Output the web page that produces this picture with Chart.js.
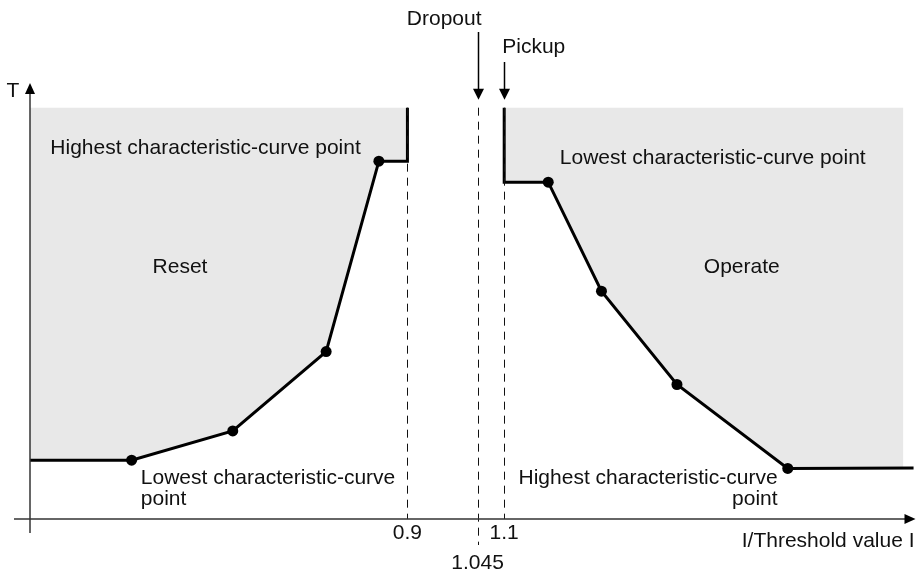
<!DOCTYPE html>
<html><head><meta charset="utf-8">
<script src="https://cdn.jsdelivr.net/npm/chart.js@4/dist/chart.umd.min.js"></script>
<style>html,body{margin:0;padding:0;background:#fff;}#wrap{width:921px;height:575px;}</style>
</head><body><div id="wrap"><canvas id="c" width="921" height="575"></canvas></div>
<script>
// ---- data (I/Threshold value on x, time T on y, schematic units) ----
const resetPointsI = [0.330, 0.539, 0.732, 0.841];
const resetPointsT = [1.43, 2.14, 4.07, 8.70];
const operatePointsI = [1.191, 1.301, 1.457, 1.686];
const operatePointsT = [8.19, 5.54, 3.27, 1.23];
const resetThreshold = 0.9;
const pickupThreshold = 1.1;
const dropoutThreshold = 1.045;
const tickValues = [0.9, 1.1];
const tickLabels = ['0.9', '1.1'];
const dropoutTickLabel = '1.045';
const regionTopT = 10;
const resetHighT = 8.70;
const curveStartI = 0.12;
const curveEndI = 1.946;
const operateRegionEndI = 1.925;
const operateLowT = 1.24;

// build curves
const resetCurve = [{x: curveStartI, y: resetPointsT[0]}]
  .concat(resetPointsI.map((v, k) => ({x: v, y: resetPointsT[k]})))
  .concat([{x: resetThreshold, y: resetHighT}, {x: resetThreshold, y: regionTopT}]);
const operateCurveCore = [{x: pickupThreshold, y: regionTopT}, {x: pickupThreshold, y: operatePointsT[0]}]
  .concat(operatePointsI.map((v, k) => ({x: v, y: operatePointsT[k]})));
const operateCurve = operateCurveCore.concat([{x: curveEndI, y: operateLowT}]);
const operateRegion = operateCurveCore.concat([{x: operateRegionEndI, y: operateLowT}]);
const dots = resetPointsI.map((v, k) => ({x: v, y: resetPointsT[k]}))
  .concat(operatePointsI.map((v, k) => ({x: v, y: operatePointsT[k]})));

const labels = [
  {text: 'Highest characteristic-curve point', x: 0.162, y: 9.02, align: 'left'},
  {text: 'Reset', x: 0.430, y: 6.13, align: 'center'},
  {text: 'Lowest characteristic-curve point', x: 1.215, y: 8.78, align: 'left'},
  {text: 'Operate', x: 1.591, y: 6.13, align: 'center'},
  {text: 'Lowest characteristic-curve', x: 0.349, y: 1.00, align: 'left'},
  {text: 'point', x: 0.349, y: 0.47, align: 'left'},
  {text: 'Highest characteristic-curve', x: 1.665, y: 1.00, align: 'right'},
  {text: 'point', x: 1.665, y: 0.47, align: 'right'},
  {text: 'Dropout', x: 0.976, y: 12.14, align: 'center'},
  {text: 'Pickup', x: 1.096, y: 11.46, align: 'left'}
];

const FONT = '21px "Liberation Sans", Arial, sans-serif';
const INK = '#111';

function arrowHead(ctx, x, y, dir, len, half) {
  ctx.beginPath();
  if (dir === 'up') { ctx.moveTo(x, y); ctx.lineTo(x - half, y + len); ctx.lineTo(x + half, y + len); }
  else if (dir === 'down') { ctx.moveTo(x, y); ctx.lineTo(x - half, y - len); ctx.lineTo(x + half, y - len); }
  else { ctx.moveTo(x, y); ctx.lineTo(x - len, y - half); ctx.lineTo(x - len, y + half); }
  ctx.closePath(); ctx.fill();
}

const deco = {
  id: 'deco',
  afterDatasetsDraw(chart) {
    const {ctx, chartArea: a, scales: {x, y}} = chart;
    ctx.save();
    ctx.strokeStyle = INK; ctx.lineWidth = 1; ctx.setLineDash([8, 6]);
    const top = y.getPixelForValue(regionTopT);
    [[resetThreshold, a.bottom], [dropoutThreshold, a.bottom + 26], [pickupThreshold, a.bottom]].forEach(([v, b]) => {
      const px = Math.round(x.getPixelForValue(v)) + 0.5;
      ctx.beginPath(); ctx.moveTo(px, top); ctx.lineTo(px, b); ctx.stroke();
    });
    ctx.restore();
  },
  afterDraw(chart) {
    const {ctx, chartArea: a, scales: {x, y}} = chart;
    ctx.save();
    // axes
    ctx.strokeStyle = '#333'; ctx.fillStyle = '#000'; ctx.lineWidth = 1.5;
    ctx.beginPath(); ctx.moveTo(a.left, a.bottom + 14); ctx.lineTo(a.left, a.top + 8); ctx.stroke();
    ctx.beginPath(); ctx.moveTo(a.left - 16, a.bottom); ctx.lineTo(a.right - 8, a.bottom); ctx.stroke();
    arrowHead(ctx, a.left, a.top, 'up', 11, 5);
    arrowHead(ctx, a.right, a.bottom, 'right', 11, 5);
    // dropout / pickup arrows
    ctx.strokeStyle = '#000'; ctx.lineWidth = 1.5;
    const headTip = y.getPixelForValue(regionTopT) - 8;
    [[dropoutThreshold, 32], [pickupThreshold, 62]].forEach(([v, from]) => {
      const px = Math.round(x.getPixelForValue(v)) + 0.5;
      ctx.beginPath(); ctx.moveTo(px, from); ctx.lineTo(px, headTip - 10); ctx.stroke();
      arrowHead(ctx, px, headTip, 'down', 11, 5.5);
    });
    // text
    ctx.fillStyle = INK; ctx.font = FONT; ctx.textBaseline = 'middle';
    labels.forEach(l => {
      ctx.textAlign = l.align;
      ctx.fillText(l.text, x.getPixelForValue(l.x), y.getPixelForValue(l.y));
    });
    ctx.textAlign = 'center';
    tickValues.forEach((v, k) => ctx.fillText(tickLabels[k], x.getPixelForValue(v), a.bottom + 14));
    ctx.fillText(dropoutTickLabel, x.getPixelForValue(dropoutThreshold), a.bottom + 44);
    ctx.textAlign = 'right';
    ctx.fillText('I/Threshold value I', a.right - 1, a.bottom + 22);
    ctx.textAlign = 'center';
    ctx.fillText('T', a.left - 17, a.top + 8);
    ctx.restore();
  }
};

new Chart(document.getElementById('c'), {
  type: 'scatter',
  data: {
    datasets: [
      {data: resetCurve, showLine: true, borderWidth: 0, borderColor: 'rgba(0,0,0,0)', backgroundColor: '#e8e8e8', fill: {value: regionTopT}, pointRadius: 0, order: 5},
      {data: operateRegion, showLine: true, borderWidth: 0, borderColor: 'rgba(0,0,0,0)', backgroundColor: '#e8e8e8', fill: {value: regionTopT}, pointRadius: 0, order: 5},
      {data: resetCurve, showLine: true, borderColor: '#000', borderWidth: 3, fill: false, pointRadius: 0, tension: 0, order: 2},
      {data: operateCurve, showLine: true, borderColor: '#000', borderWidth: 3, fill: false, pointRadius: 0, tension: 0, order: 2},
      {data: dots, showLine: false, pointRadius: 5.5, backgroundColor: '#000', borderColor: '#000', pointBorderWidth: 0, order: 1}
    ]
  },
  options: {
    responsive: false, animation: false, devicePixelRatio: 1,
    layout: {padding: {left: 30, right: 3, top: 83, bottom: 56}},
    scales: {
      x: {type: 'linear', display: false, min: curveStartI, max: 1.95},
      y: {type: 'linear', display: false, min: 0, max: 10.6}
    },
    plugins: {legend: {display: false}, tooltip: {enabled: false}},
    elements: {line: {borderJoinStyle: 'miter'}},
    clip: false
  },
  plugins: [deco]
});
</script></body></html>
